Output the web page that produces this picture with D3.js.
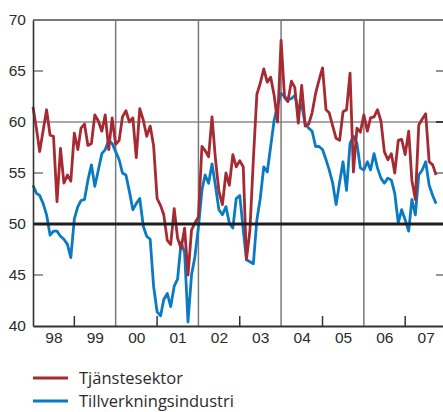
<!DOCTYPE html>
<html>
<head>
<meta charset="utf-8">
<script src="https://cdn.jsdelivr.net/npm/d3@7"></script>
<style>
  html, body { margin: 0; padding: 0; background: #fff; }
  svg { display: block; font-family: "Open Sans", "Noto Sans", sans-serif; }
</style>
</head>
<body>
<div id="chart"></div>
<script>
// Inköpschefsindex, månadsvärden jan 1998 – okt 2007
const startYear = 1998;
const tjanstesektor = [
  61.5, 59.3, 57.1, 59.2, 61.2, 58.7, 58.6, 52.2, 57.4, 54.0, 54.8, 54.2,
  58.9, 57.3, 59.4, 59.8, 57.7, 57.9, 60.7, 60.1, 59.1, 60.7, 57.3, 60.4,
  57.8, 58.2, 60.5, 61.1, 60.0, 60.4, 56.5, 61.3, 60.2, 58.6, 59.6, 57.7,
  52.5, 51.8, 50.9, 48.4, 48.0, 51.5, 48.6, 47.6, 49.6, 45.0, 49.4, 50.1,
  50.7, 57.6, 57.2, 56.6, 60.5, 56.3, 53.2, 51.9, 55.0, 53.8, 56.8, 55.6,
  56.2, 55.6, 46.5, 49.4, 56.3, 62.7, 63.8, 65.2, 63.9, 64.4, 62.6, 60.0,
  68.0, 62.4, 62.0, 64.0, 63.4, 59.9, 63.6, 59.6, 59.8, 60.9, 62.8, 64.1,
  65.3, 61.2, 60.9, 59.6, 58.4, 58.2, 61.0, 61.2, 64.8, 55.1, 59.4, 59.0,
  60.7, 59.1, 60.4, 60.5, 61.2, 60.1, 57.1, 56.3, 56.9, 55.0, 58.2, 58.3,
  56.8, 59.1, 54.3, 52.4, 59.7, 60.3, 60.8, 56.1, 55.8, 54.8
];
const tillverkning = [
  53.8, 53.0, 52.8, 52.0, 50.9, 48.9, 49.3, 49.3, 48.8, 48.5, 48.0, 46.7,
  50.5, 51.7, 52.3, 52.4, 54.3, 55.8, 53.7, 55.3, 56.9, 57.3, 58.2, 57.9,
  57.1, 56.3, 55.0, 54.8, 53.2, 51.4, 52.0, 52.5, 49.8, 48.8, 48.5, 43.9,
  41.4, 41.0, 42.6, 43.2, 41.9, 43.9, 44.6, 48.2, 47.2, 40.4, 45.0, 46.8,
  49.7, 53.3, 54.8, 54.0, 55.9, 53.7, 51.4, 50.9, 51.7, 50.1, 49.6, 52.5,
  52.8, 49.4, 46.5, 46.3, 46.1, 50.4, 52.5, 55.6, 55.1, 57.6, 60.2, 61.6,
  62.8, 62.5, 62.2, 62.3, 62.6, 61.3, 61.7, 59.8, 59.4, 59.1, 57.6, 57.6,
  57.3, 56.3, 55.3, 54.0, 51.9, 54.1, 56.1, 53.3, 57.9, 58.6, 57.9, 55.5,
  55.3, 56.1, 55.3, 56.9, 55.5, 54.5, 54.0, 54.5, 54.3, 53.0, 50.1, 51.4,
  50.4, 49.3, 52.4, 50.9, 54.8, 55.3, 56.1, 53.8, 52.8, 52.0
];
const yearLabels = ["98", "99", "00", "01", "02", "03", "04", "05", "06", "07"];
const yTicks = [40, 45, 50, 55, 60, 65, 70];
const seriesNames = ["Tjänstesektor", "Tillverkningsindustri"];
const seriesColors = ["#a52a32", "#0a7bc3"];

(function draw() {
  const W = 443, H = 412;
  const m = { left: 33, right: 443, top: 20, bottom: 326 };

  const svg = d3.select("#chart").append("svg")
    .attr("width", W).attr("height", H);

  const month = i => new Date(startYear, i, 1);
  const x = d3.scaleTime()
    .domain([month(0), month(119)])
    .range([m.left, m.right]);
  const y = d3.scaleLinear().domain([40, 70]).range([m.bottom, m.top]);

  // horizontal reference at 60 and top frame at 70
  svg.append("line")
    .attr("x1", m.left).attr("x2", m.right)
    .attr("y1", y(60)).attr("y2", y(60))
    .attr("stroke", "#8a8a8a").attr("stroke-width", 1.6);
  svg.append("line")
    .attr("x1", m.left).attr("x2", m.right)
    .attr("y1", y(70)).attr("y2", y(70))
    .attr("stroke", "#4a4a4a").attr("stroke-width", 1.4);

  // vertical separators every second year
  const gridYears = [2000, 2002, 2004, 2006];
  svg.selectAll(".vgrid").data(gridYears).enter().append("line")
    .attr("x1", d => x(new Date(d, 0, 1))).attr("x2", d => x(new Date(d, 0, 1)))
    .attr("y1", m.top).attr("y2", m.bottom)
    .attr("stroke", "#7a7a7a").attr("stroke-width", 1.5);

  // short inner ticks on both sides
  svg.selectAll(".ltick").data([45, 55, 65]).enter().append("line")
    .attr("x1", m.left).attr("x2", m.left + 10)
    .attr("y1", d => y(d)).attr("y2", d => y(d))
    .attr("stroke", "#7a7a7a").attr("stroke-width", 1.5);
  svg.selectAll(".rtick").data([45, 55, 60, 65]).enter().append("line")
    .attr("x1", m.right - 7).attr("x2", m.right)
    .attr("y1", d => y(d)).attr("y2", d => y(d))
    .attr("stroke", d => d === 60 ? "#222" : "#7a7a7a").attr("stroke-width", 1.6);

  // odd-year ticks on the time axis
  svg.selectAll(".xtick").data([1999, 2001, 2003, 2005, 2007]).enter().append("line")
    .attr("x1", d => x(new Date(d, 0, 1))).attr("x2", d => x(new Date(d, 0, 1)))
    .attr("y1", m.bottom).attr("y2", m.bottom - 10)
    .attr("stroke", "#333").attr("stroke-width", 1.5);

  // series
  const line = d3.line()
    .x((d, i) => x(month(i)))
    .y(d => y(d));
  [[tillverkning, seriesColors[1]], [tjanstesektor, seriesColors[0]]].forEach(([vals, col]) => {
    svg.append("path")
      .datum(vals)
      .attr("fill", "none")
      .attr("stroke", col)
      .attr("stroke-width", 2.8)
      .attr("stroke-linejoin", "round")
      .attr("d", line);
  });

  // the 50 threshold line
  svg.append("line")
    .attr("x1", m.left).attr("x2", m.right)
    .attr("y1", y(50)).attr("y2", y(50))
    .attr("stroke", "#1e1e1e").attr("stroke-width", 2.8);

  // y axis
  const yAxis = d3.axisLeft(y).tickValues(yTicks).tickSize(0).tickPadding(7);
  const gy = svg.append("g").attr("transform", `translate(${m.left},0)`).call(yAxis);
  gy.select(".domain").attr("stroke", "#333").attr("stroke-width", 1.6);
  gy.selectAll("text").attr("font-size", 15.5).attr("fill", "#2b2b2b");

  // x axis with year labels centred in each year
  const midYear = yearLabels.map((s, i) => new Date(startYear + i, 6, 1));
  const xAxis = d3.axisBottom(x).tickValues(midYear)
    .tickFormat((d, i) => yearLabels[i]).tickSize(0).tickPadding(6);
  const gx = svg.append("g").attr("transform", `translate(0,${m.bottom})`).call(xAxis);
  gx.select(".domain").attr("stroke", "#333").attr("stroke-width", 1.8);
  gx.selectAll("text").attr("font-size", 15.5).attr("fill", "#2b2b2b");

  // legend
  const legendY = [378, 401];
  const lg = svg.selectAll(".legend").data(seriesNames).enter().append("g")
    .attr("transform", (d, i) => `translate(33,${legendY[i]})`);
  lg.append("line")
    .attr("x1", 0).attr("x2", 35).attr("y1", 0).attr("y2", 0)
    .attr("stroke", (d, i) => seriesColors[i]).attr("stroke-width", 2.8);
  lg.append("text")
    .attr("x", 46).attr("y", 0).attr("dy", "0.35em")
    .attr("font-size", 16.5).attr("fill", "#2b2b2b")
    .text(d => d);
})();
</script>
</body>
</html>
